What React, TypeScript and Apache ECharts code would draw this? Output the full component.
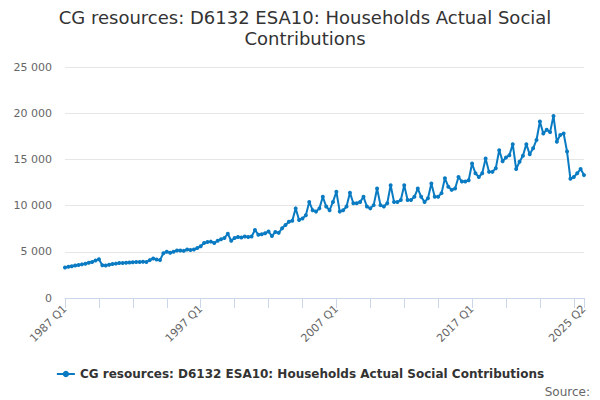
import React, { useEffect, useRef } from "react";
import * as echarts from "echarts";

const TITLE = "CG resources: D6132 ESA10: Households Actual Social\nContributions";
const SERIES_NAME = "CG resources: D6132 ESA10: Households Actual Social Contributions";

const startYear = 1987;
const quarterCount = 154;
const categories: string[] = [];
for (let i = 0; i < quarterCount; i++) {
  categories.push(`${startYear + Math.floor(i / 4)} Q${(i % 4) + 1}`);
}

const values1987to1996 = [
  3300, 3380, 3440, 3520, 3580, 3640, 3700, 3820, 3900, 4050,
  4200, 3550, 3520, 3600, 3680, 3720, 3780, 3780, 3820, 3850,
  3880, 3900, 3900, 3920, 3900, 4100, 4280, 4170, 4100, 4850,
  5000, 4900, 5000, 5150, 5150, 5100, 5250, 5200, 5250, 5400,
];
const values1997to2006 = [
  5600, 5950, 6050, 6100, 5950, 6200, 6350, 6500, 6950, 6200,
  6500, 6600, 6550, 6650, 6600, 6650, 7350, 6850, 6900, 7000,
  7200, 6700, 7150, 7050, 7550, 7900, 8250, 8350, 9700, 8450,
  8600, 8950, 10400, 9500, 9350, 9700, 10950, 9900, 9500, 10400,
];
const values2007to2016 = [
  11500, 9350, 9500, 9900, 11400, 10250, 10250, 10400, 10950, 9900,
  9700, 10050, 11850, 10050, 9900, 10250, 12200, 10400, 10400, 10600,
  12200, 10600, 10600, 10950, 11850, 10950, 10400, 10800, 12400, 10950,
  10950, 11350, 12950, 12050, 11700, 11850, 13100, 12600, 12600, 12750,
];
const values2017to2025 = [
  14550, 13500, 13100, 13500, 15100, 13650, 13650, 14050, 16000, 14800,
  15200, 15450, 16650, 13950, 14750, 15400, 16650, 15550, 16200, 17100,
  19100, 17800, 18200, 17950, 19700, 16900, 17650, 17800, 15850, 12900,
  13100, 13500, 13950, 13300,
];
const values = [...values1987to1996, ...values1997to2006, ...values2007to2016, ...values2017to2025];

const yTicks = [0, 5000, 10000, 15000, 20000, 25000];

const fmt = (v: number) => String(v).replace(/\B(?=(\d{3})+(?!\d))/g, " ");

export default function App() {
  const ref = useRef<HTMLDivElement>(null);
  useEffect(() => {
    document.body.style.margin = "0";
    if (!ref.current) return;
    const chart = echarts.init(ref.current, undefined, { renderer: "svg" });
    const last = categories.length - 1;
    chart.setOption({
      animation: false,
      textStyle: { fontFamily: "DejaVu Sans" },
      title: {
        text: TITLE,
        left: 300,
        textAlign: "center",
        top: 2,
        textStyle: {
          fontSize: 18,
          fontWeight: "normal",
          color: "#333333",
          lineHeight: 21,
          fontFamily: "DejaVu Sans",
        },
      },
      legend: {
        top: 363,
        left: "center",
        itemWidth: 18,
        itemHeight: 8,
        textStyle: { fontSize: 12, fontWeight: "bold", color: "#333333", fontFamily: "DejaVu Sans" },
        data: [SERIES_NAME],
      },
      graphic: [
        {
          type: "text",
          right: 10,
          top: 386,
          style: { text: "Source:", fontSize: 12, fill: "#666666", fontFamily: "DejaVu Sans" },
        },
      ],
      grid: { left: 65, right: 16, top: 67, bottom: 102, containLabel: false },
      xAxis: {
        type: "category",
        data: categories,
        boundaryGap: false,
        axisLine: { lineStyle: { color: "#ccd6eb" } },
        axisTick: {
          show: true,
          length: 10,
          interval: (i: number) => i % 10 === 0 || i === last,
          lineStyle: { color: "#ccd6eb" },
        },
        axisLabel: {
          interval: (i: number) => i % 40 === 0 || i === last,
          rotate: 45,
          color: "#666666",
          fontSize: 11,
          margin: 9,
          fontFamily: "DejaVu Sans",
        },
        splitLine: { show: false },
      },
      yAxis: {
        type: "value",
        min: yTicks[0],
        max: yTicks[yTicks.length - 1],
        interval: 5000,
        axisLine: { show: false },
        axisTick: { show: false },
        axisLabel: {
          color: "#666666",
          fontSize: 11,
          margin: 13,
          fontFamily: "DejaVu Sans",
          formatter: (v: number) => fmt(v),
        },
        splitLine: { lineStyle: { color: "#e6e6e6" } },
      },
      series: [
        {
          name: SERIES_NAME,
          type: "line",
          data: values,
          symbol: "circle",
          symbolSize: 4,
          showSymbol: true,
          showAllSymbol: true,
          lineStyle: { color: "#0a7bc2", width: 2 },
          itemStyle: { color: "#0a7bc2" },
        },
      ],
    });
    return () => chart.dispose();
  }, []);
  return <div ref={ref} style={{ width: 600, height: 400 }} />;
}
